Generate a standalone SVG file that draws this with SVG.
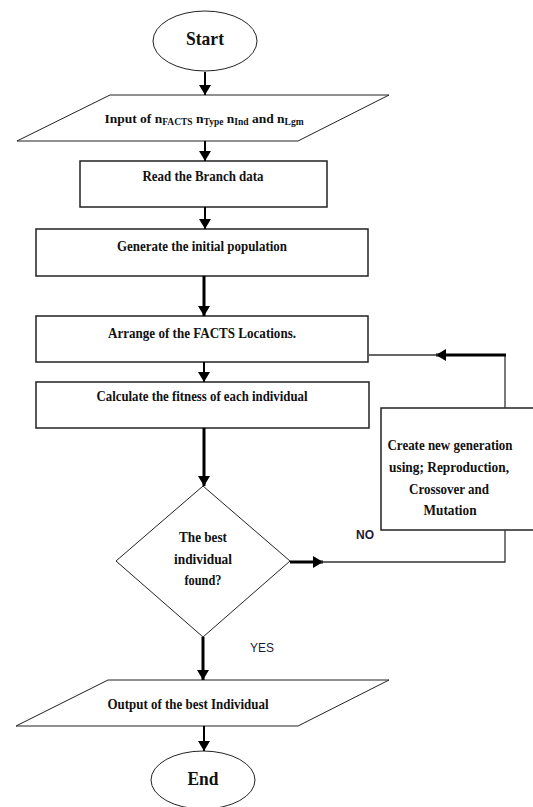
<svg xmlns="http://www.w3.org/2000/svg" width="533" height="807" viewBox="0 0 533 807">
<defs>
<marker id="ah" markerUnits="userSpaceOnUse" markerWidth="10" markerHeight="12" viewBox="0 0 10 12" refX="10" refY="6" orient="auto">
<path d="M0,0 L10,6 L0,12 Z" fill="#000"/>
</marker>
</defs>
<style>
.box{fill:#fff;stroke:#222;stroke-width:1.5}
.thin{fill:#fff;stroke:#222;stroke-width:1}
.t{font-family:"Liberation Serif","Times New Roman",serif;font-weight:bold;font-size:15px;fill:#111;text-anchor:middle}
.inp{font-family:"Liberation Serif","Times New Roman",serif;font-weight:bold;font-size:13.5px;fill:#111;text-anchor:middle}
.big{font-family:"Liberation Serif","Times New Roman",serif;font-weight:bold;font-size:19px;fill:#111;text-anchor:middle}
.lab{font-family:"Liberation Sans",Arial,sans-serif;font-size:12px;fill:#1a1a3a}
.arr{stroke:#000;stroke-width:2;fill:none}
.thk{stroke:#000;stroke-width:3;fill:none}
.ln{stroke:#333;stroke-width:1.3;fill:none}
</style>
<rect width="533" height="807" fill="#fff"/>
<g id="start">
<ellipse class="thin" cx="205" cy="41" rx="52" ry="30"/>
<text class="big" x="205" y="45" textLength="38" lengthAdjust="spacingAndGlyphs">Start</text>
</g>
<g id="input">
<polygon class="thin" points="110,95 389,95 298,141 17,141"/>
<text class="inp" x="204" y="123">Input of n<tspan font-size="9.5" dy="2">FACTS</tspan><tspan dy="-2"> n</tspan><tspan font-size="9.5" dy="2">Type</tspan><tspan dy="-2"> n</tspan><tspan font-size="9.5" dy="2">Ind</tspan><tspan dy="-2"> and n</tspan><tspan font-size="9.5" dy="2">Lgm</tspan></text>
</g>
<g id="read">
<rect class="box" x="80" y="161" width="247" height="46"/>
<text class="t" x="203" y="181" textLength="121" lengthAdjust="spacingAndGlyphs">Read the Branch data</text>
</g>
<g id="generate">
<rect class="box" x="36" y="229" width="332" height="47"/>
<text class="t" x="202" y="251" textLength="170" lengthAdjust="spacingAndGlyphs">Generate the initial population</text>
</g>
<g id="arrange">
<rect class="box" x="36" y="316" width="332" height="46"/>
<text class="t" x="202" y="338" textLength="188" lengthAdjust="spacingAndGlyphs">Arrange of the FACTS Locations.</text>
</g>
<g id="calculate">
<rect class="box" x="36" y="382" width="333" height="46"/>
<text class="t" x="202" y="401" textLength="211" lengthAdjust="spacingAndGlyphs">Calculate the fitness of each individual</text>
</g>
<g id="decision">
<polygon class="thin" points="203,486 290,561 203,637 116,561"/>
<text class="t" x="203" y="542" textLength="48" lengthAdjust="spacingAndGlyphs">The best</text>
<text class="t" x="203" y="564" textLength="58" lengthAdjust="spacingAndGlyphs">individual</text>
<text class="t" x="203" y="585" textLength="37" lengthAdjust="spacingAndGlyphs">found?</text>
</g>
<g id="create">
<rect class="box" x="381" y="408" width="160" height="122"/>
<text class="t" x="450" y="450" textLength="125" lengthAdjust="spacingAndGlyphs">Create new generation</text>
<text class="t" x="449" y="472" textLength="120" lengthAdjust="spacingAndGlyphs">using; Reproduction,</text>
<text class="t" x="449" y="494" textLength="80" lengthAdjust="spacingAndGlyphs">Crossover and</text>
<text class="t" x="450" y="515" textLength="53" lengthAdjust="spacingAndGlyphs">Mutation</text>
</g>
<g id="output">
<polygon class="thin" points="108,680 389,680 298,726 16,726"/>
<text class="t" x="188" y="709" textLength="161" lengthAdjust="spacingAndGlyphs">Output of the best Individual</text>
</g>
<g id="end">
<ellipse class="thin" cx="203" cy="780" rx="52" ry="29"/>
<text class="big" x="203" y="785" textLength="31" lengthAdjust="spacingAndGlyphs">End</text>
</g>
<g id="connectors">
<line class="arr" x1="205" y1="72" x2="205" y2="95" marker-end="url(#ah)"/>
<line class="arr" x1="205" y1="141" x2="205" y2="161" marker-end="url(#ah)"/>
<line class="arr" x1="205" y1="207" x2="205" y2="229" marker-end="url(#ah)"/>
<line class="thk" x1="204" y1="276" x2="204" y2="316" marker-end="url(#ah)"/>
<line class="arr" x1="204" y1="362" x2="204" y2="382" marker-end="url(#ah)"/>
<line class="thk" x1="204" y1="428" x2="204" y2="486" marker-end="url(#ah)"/>
<line class="thk" x1="203" y1="637" x2="203" y2="680" marker-end="url(#ah)"/>
<line class="arr" x1="204" y1="726" x2="204" y2="751" marker-end="url(#ah)"/>
<line class="thk" x1="290" y1="562" x2="323" y2="562" marker-end="url(#ah)"/>
<polyline class="ln" points="321,562 505,562 505,530"/>
<polyline class="ln" points="505,408 505,355"/>
<line class="thk" x1="506" y1="355" x2="436" y2="355" marker-end="url(#ah)"/>
<line class="ln" x1="438" y1="355" x2="369" y2="355"/>
<text class="lab" x="356" y="539" font-weight="bold">NO</text>
<text class="lab" x="250" y="652">YES</text>
</g>
</svg>
